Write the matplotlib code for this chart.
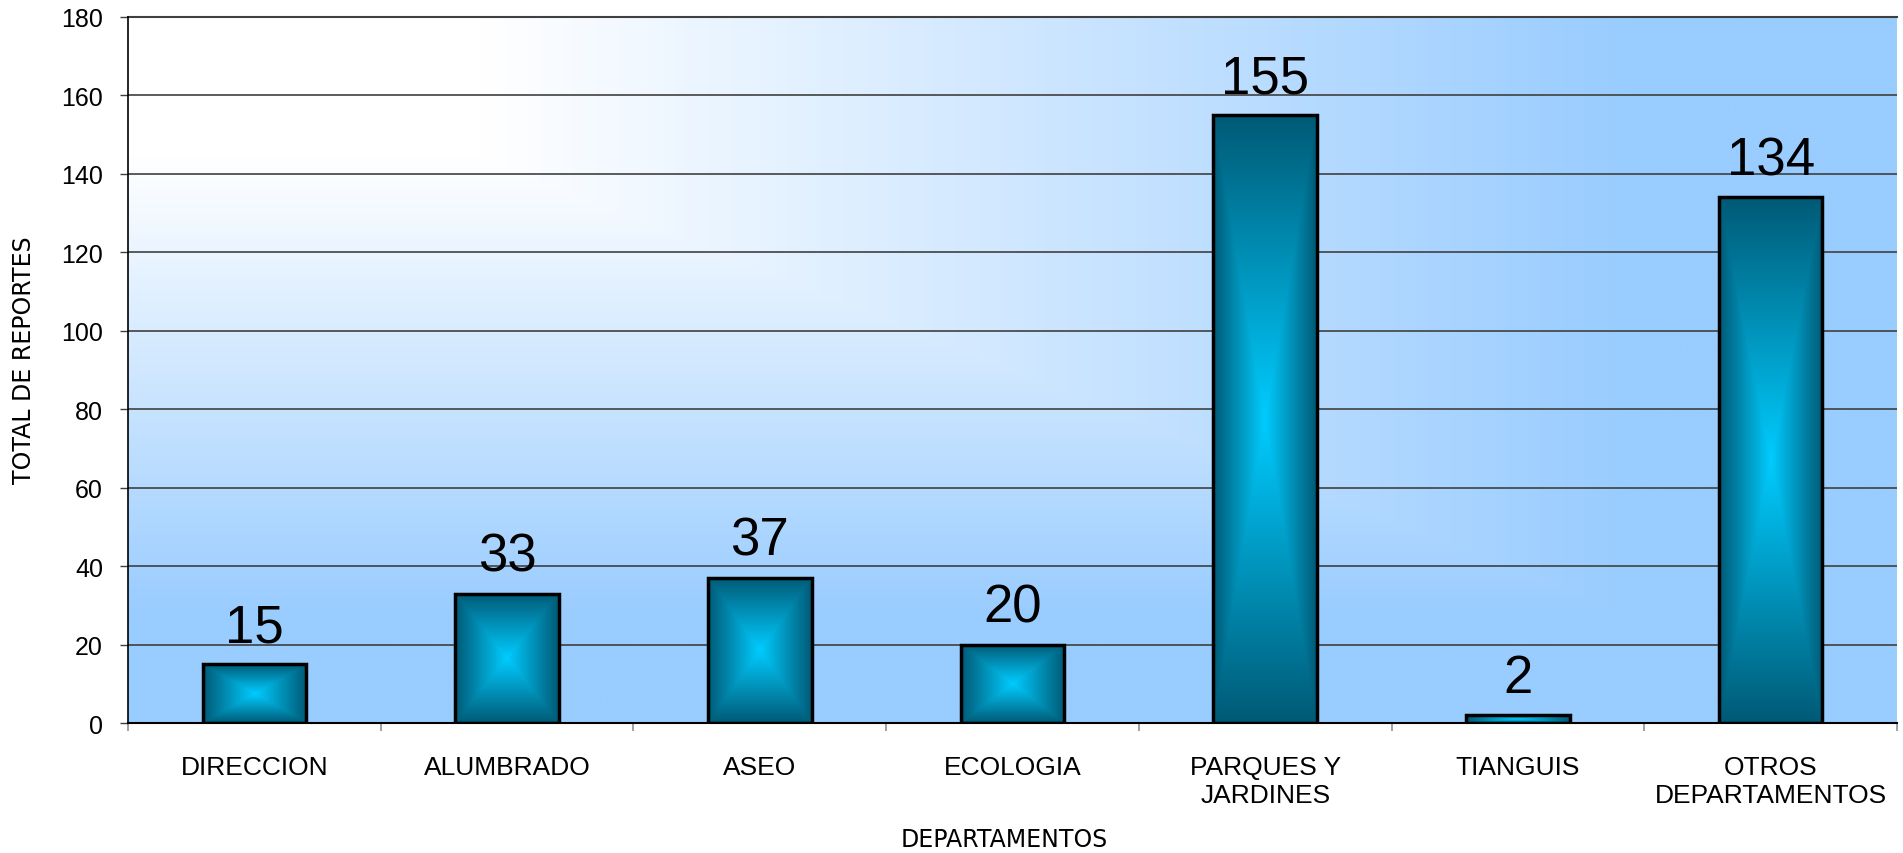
import numpy as np
import matplotlib
matplotlib.use("Agg")
import matplotlib.pyplot as plt
from matplotlib.patches import Rectangle

categories = ["DIRECCION", "ALUMBRADO", "ASEO", "ECOLOGIA", "PARQUES Y\nJARDINES", "TIANGUIS", "OTROS\nDEPARTAMENTOS"]
values = [15, 33, 37, 20, 155, 2, 134]
yticks = [0, 20, 40, 60, 80, 100, 120, 140, 160, 180]
ylabel = "TOTAL DE REPORTES"
xlabel = "DEPARTAMENTOS"

W, H = 1903, 854
fig = plt.figure(figsize=(W / 100, H / 100), dpi=100)
left, right, top, bottom = 128, 1897, 18, 724
ax = fig.add_axes([left / W, 1 - bottom / H, (right - left) / W, (bottom - top) / H])

# background gradient (white top-left -> light blue)
n = 300
xx, yy = np.meshgrid(np.linspace(0, 1, n), np.linspace(0, 1, n))
f = np.maximum(xx, yy)
t = np.clip((f - 0.2) / 0.65, 0, 1)
c0 = np.array([255, 255, 255]) / 255
c1 = np.array([153, 204, 255]) / 255
bg = c0[None, None, :] * (1 - t[..., None]) + c1[None, None, :] * t[..., None]
ax.imshow(bg, extent=[0, 1, 0, 1], origin="upper", transform=ax.transAxes, aspect="auto",
          zorder=0, interpolation="bilinear")

ax.set_xlim(-0.5, len(categories) - 0.5)
ax.set_ylim(0, 180)

for yv in yticks[1:]:
    ax.axhline(yv, color="#404040", lw=1.2, zorder=1)

# bars with rectangular gradient
dark = np.array([0, 90, 118]) / 255
bright = np.array([0, 204, 255]) / 255
bw = 0.41
m = 200
uu, vv = np.meshgrid(np.linspace(-1, 1, m), np.linspace(-1, 1, m))
tt = np.maximum(np.abs(uu), np.abs(vv))
grad = bright[None, None, :] * (1 - tt[..., None]) + dark[None, None, :] * tt[..., None]
for i, v in enumerate(values):
    x0 = i - bw / 2
    rect = Rectangle((x0, 0), bw, v, facecolor="none", edgecolor="black", lw=2.5, zorder=3)
    ax.add_patch(rect)
    im = ax.imshow(grad, extent=[x0, x0 + bw, 0, v], aspect="auto", zorder=2, interpolation="bilinear")
    im.set_clip_path(rect)
    ax.annotate(str(v), xy=(i, v), xytext=(0, 16.5), textcoords="offset points",
                ha="center", va="baseline", fontsize=38, family="Liberation Sans", color="black", zorder=4)

ax.set_xticks(range(len(categories)))
ax.set_xticklabels(categories, fontsize=19, family="Liberation Sans")
ax.tick_params(axis="x", which="major", length=0, pad=23)
ax.set_xticks(np.arange(-0.5, len(categories), 1.0), minor=True)
ax.tick_params(axis="x", which="minor", length=6, width=1.2, color="#909090")

ax.set_yticks(yticks)
ax.set_yticklabels([str(v) for v in yticks], fontsize=18, family="Liberation Sans")
ax.tick_params(axis="y", length=6, width=1, color="#404040", pad=12)

ax.spines["top"].set_visible(False)
ax.spines["right"].set_visible(False)
ax.spines["left"].set_color("black")
ax.spines["bottom"].set_color("black")
ax.spines["left"].set_linewidth(1.2)
ax.spines["bottom"].set_linewidth(1.5)
ax.spines["left"].set_zorder(5)
ax.spines["bottom"].set_zorder(5)
ax.axhline(180, color="#404040", lw=1.5, zorder=5, clip_on=False)

fig.text(24 / W, 1 - 360 / H, ylabel, rotation=90, ha="center", va="center", fontsize=17, family="DejaVu Sans")
fig.text(1004 / W, 1 - 840 / H, xlabel, ha="center", va="center", fontsize=17, family="DejaVu Sans")

fig.savefig("out.png", dpi=100)
